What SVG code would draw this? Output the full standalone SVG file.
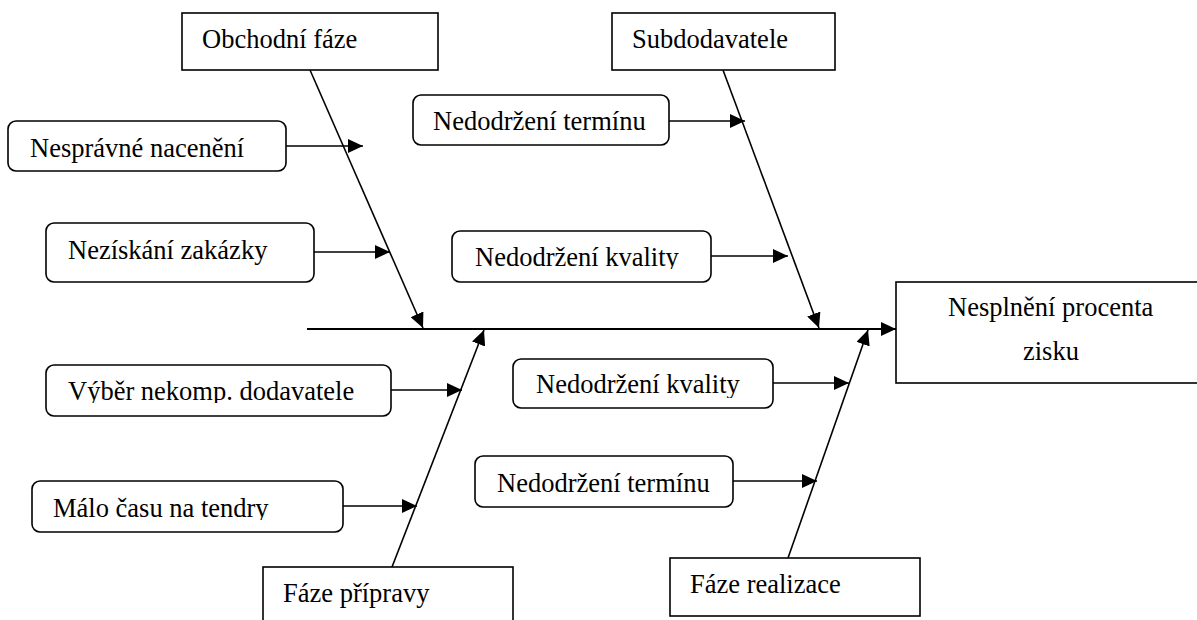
<svg xmlns="http://www.w3.org/2000/svg" width="1197" height="620" viewBox="0 0 1197 620">
  <style>
    .box { fill: #ffffff; stroke: #000000; stroke-width: 1.6; }
    .cause { fill: #ffffff; stroke: #000000; stroke-width: 1.6; }
    .conn { stroke: #000000; stroke-width: 1.6; fill: none; }
    .spine { stroke: #000000; stroke-width: 2.2; fill: none; }
  </style>
  <defs>
    <marker id="head" markerUnits="userSpaceOnUse" markerWidth="16" markerHeight="14" refX="15" refY="7" orient="auto">
      <path d="M0,0 L15,7 L0,14 Z" fill="#000000"/>
    </marker>
    <!-- text of a few cause boxes is cut off just below the baseline -->
    <clipPath id="clipKvalityTop" clipPathUnits="userSpaceOnUse"><rect x="452" y="231" width="259" height="38"/></clipPath>
    <clipPath id="clipVyber" clipPathUnits="userSpaceOnUse"><rect x="46" y="365" width="345" height="38"/></clipPath>
    <clipPath id="clipMalo" clipPathUnits="userSpaceOnUse"><rect x="32" y="481" width="311" height="39"/></clipPath>
    <clipPath id="clipKvalityBottom" clipPathUnits="userSpaceOnUse"><rect x="513" y="359" width="260" height="39"/></clipPath>
  </defs>

  <!-- connectors: spine, category bones and cause arrows -->
  <g id="connectors">
    <line class="spine" x1="307" y1="329" x2="896" y2="329" marker-end="url(#head)"/>
    <line class="conn" x1="310" y1="70" x2="423" y2="328" marker-end="url(#head)"/>
    <line class="conn" x1="723" y1="70" x2="819" y2="328" marker-end="url(#head)"/>
    <line class="conn" x1="392" y1="567" x2="484" y2="330" marker-end="url(#head)"/>
    <line class="conn" x1="788" y1="558" x2="868" y2="330" marker-end="url(#head)"/>

    <line class="conn" x1="286" y1="146" x2="363" y2="146" marker-end="url(#head)"/>
    <line class="conn" x1="314" y1="252" x2="390" y2="252" marker-end="url(#head)"/>
    <line class="conn" x1="669" y1="121" x2="745" y2="121" marker-end="url(#head)"/>
    <line class="conn" x1="711" y1="256" x2="788" y2="256" marker-end="url(#head)"/>
    <line class="conn" x1="391" y1="390" x2="462" y2="390" marker-end="url(#head)"/>
    <line class="conn" x1="343" y1="506" x2="417" y2="506" marker-end="url(#head)"/>
    <line class="conn" x1="773" y1="383" x2="849" y2="383" marker-end="url(#head)"/>
    <line class="conn" x1="733" y1="481" x2="817" y2="481" marker-end="url(#head)"/>
  </g>

  <g font-family="Liberation Serif, Times New Roman, serif" font-size="26.5" fill="#000000">
  <!-- category boxes -->
  <g id="obchodni-faze">
    <rect class="box" x="182" y="13" width="256" height="57"/>
    <text x="202" y="48">Obchodní fáze</text>
  </g>
  <g id="subdodavatele">
    <rect class="box" x="612" y="13" width="223" height="57"/>
    <text x="632" y="48">Subdodavatele</text>
  </g>
  <g id="faze-pripravy">
    <rect class="box" x="263" y="567" width="250" height="80"/>
    <text x="283" y="602">Fáze přípravy</text>
  </g>
  <g id="faze-realizace">
    <rect class="box" x="670" y="558" width="250" height="58"/>
    <text x="690" y="593">Fáze realizace</text>
  </g>

  <!-- effect -->
  <g id="nesplneni-procenta-zisku">
    <rect class="box" x="896" y="282" width="330" height="101"/>
    <text x="948" y="316">Nesplnění procenta</text>
    <text x="1023" y="360">zisku</text>
  </g>

  <!-- causes -->
  <g id="nespravne-naceneni">
    <rect class="cause" x="8" y="121" width="278" height="50" rx="8"/>
    <text x="30" y="157">Nesprávné nacenění</text>
  </g>
  <g id="neziskani-zakazky">
    <rect class="cause" x="46" y="223" width="268" height="59" rx="8"/>
    <text x="68" y="259">Nezískání zakázky</text>
  </g>
  <g id="nedodrzeni-terminu-sub">
    <rect class="cause" x="413" y="95" width="256" height="50" rx="8"/>
    <text x="433" y="130">Nedodržení termínu</text>
  </g>
  <g id="nedodrzeni-kvality-sub">
    <rect class="cause" x="452" y="231" width="259" height="51" rx="8"/>
    <text x="475" y="266" clip-path="url(#clipKvalityTop)">Nedodržení kvality</text>
  </g>
  <g id="vyber-dodavatele">
    <rect class="cause" x="46" y="365" width="345" height="51" rx="8"/>
    <text x="68" y="400" clip-path="url(#clipVyber)">Výběr nekomp. dodavatele</text>
  </g>
  <g id="malo-casu">
    <rect class="cause" x="32" y="481" width="311" height="51" rx="8"/>
    <text x="53" y="517" clip-path="url(#clipMalo)">Málo času na tendry</text>
  </g>
  <g id="nedodrzeni-kvality-real">
    <rect class="cause" x="513" y="359" width="260" height="49" rx="8"/>
    <text x="536" y="393" clip-path="url(#clipKvalityBottom)">Nedodržení kvality</text>
  </g>
  <g id="nedodrzeni-terminu-real">
    <rect class="cause" x="475" y="456" width="258" height="51" rx="8"/>
    <text x="497" y="492">Nedodržení termínu</text>
  </g>
  </g>
</svg>
